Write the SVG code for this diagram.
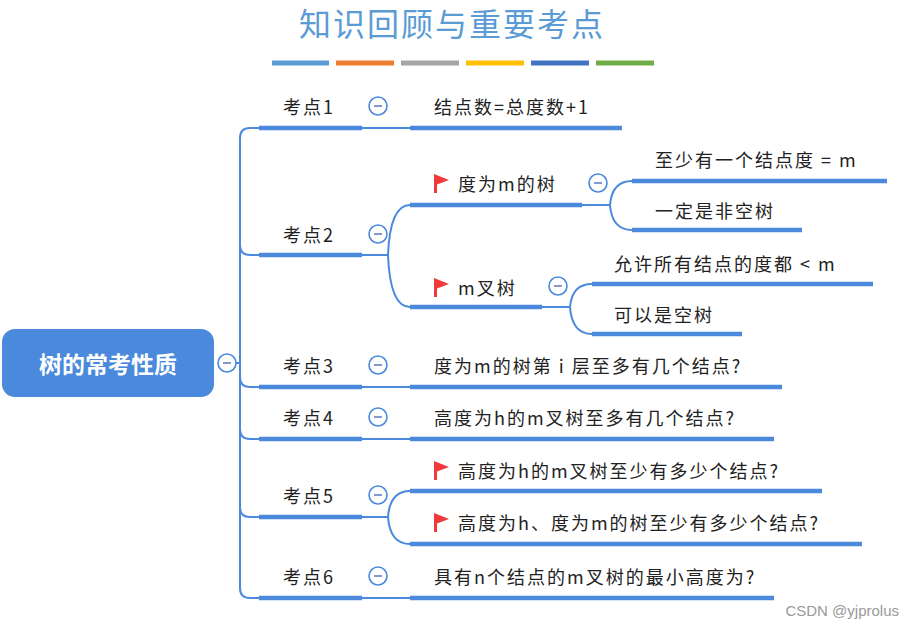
<svg xmlns="http://www.w3.org/2000/svg" width="914" height="630" viewBox="0 0 914 630">
<style>
.u{stroke:#4a89dc;stroke-width:4.5;fill:none}
.c{stroke:#4a89dc;stroke-width:2;fill:none}
.t{font-family:"Noto Sans CJK SC","Liberation Sans",sans-serif;font-size:18px;letter-spacing:2px;fill:#222}
.m{fill:#fff;stroke:#4a89dc;stroke-width:1.6}
.f{fill:#f03a3a}
</style>
<defs>
<g id="min"><circle r="9" class="m"/><line x1="-4" y1="0" x2="4" y2="0" stroke="#6a7fc0" stroke-width="1.6"/></g>
<g id="flag"><path d="M-1,-9 L14,-3 L2,1.5 L2,10 L-1,10 Z" class="f"/></g>
</defs>
<text x="452" y="36" text-anchor="middle" font-family="Noto Sans CJK SC,serif" font-size="32" letter-spacing="2" fill="#5b9bd5">知识回顾与重要考点</text>
<g stroke-width="5">
<line x1="272" y1="63" x2="329" y2="63" stroke="#5b9bd5"/>
<line x1="336" y1="63" x2="394" y2="63" stroke="#ed7d31"/>
<line x1="401" y1="63" x2="459" y2="63" stroke="#a5a5a5"/>
<line x1="466" y1="63" x2="524" y2="63" stroke="#ffc000"/>
<line x1="531" y1="63" x2="589" y2="63" stroke="#4472c4"/>
<line x1="596" y1="63" x2="654" y2="63" stroke="#70ad47"/>
</g>
<g id="connectors">
<path class="c" d="M236,363 H240 M250,128 Q240,128 240,138 V588 Q240,598 250,598 M240,245 Q240,255 250,255 M240,377 Q240,387 250,387 M240,429 Q240,439 250,439 M240,507 Q240,517 250,517"/>
<path class="c" d="M250,128 H260 M250,255 H260 M250,387 H260 M250,439 H260 M250,517 H260 M250,598 H260"/>
<path class="c" d="M362,128 H410 M362,255 H388 Q390,205 410,205 M388,255 Q390,307 410,307 M362,387 H410 M362,439 H410 M362,517 H388 Q390,491 410,491 M388,517 Q390,544 410,544 M362,598 H410"/>
<path class="c" d="M582,205 H610 Q612,181 632,181 M610,205 Q612,230 632,230 M542,307 H570 Q572,284 592,284 M570,307 Q572,334 592,334"/>
</g>
<g id="root">
<rect x="2" y="329" width="212" height="68" rx="13" fill="#4a89dc"/>
<text x="108" y="373" text-anchor="middle" font-family="Noto Sans CJK SC,sans-serif" font-size="23" font-weight="bold" fill="#fff">树的常考性质</text>
<use href="#min" x="227" y="363"/>
</g>
<g id="k1"><line class="u" x1="259" y1="128" x2="362" y2="128"/><text class="t" x="283" y="114">考点1</text><use href="#min" x="378" y="106"/></g>
<g id="k2"><line class="u" x1="259" y1="255" x2="362" y2="255"/><text class="t" x="283" y="242">考点2</text><use href="#min" x="378" y="234"/></g>
<g id="k3"><line class="u" x1="259" y1="387" x2="362" y2="387"/><text class="t" x="283" y="373">考点3</text><use href="#min" x="378" y="365"/></g>
<g id="k4"><line class="u" x1="259" y1="439" x2="362" y2="439"/><text class="t" x="283" y="425">考点4</text><use href="#min" x="378" y="417"/></g>
<g id="k5"><line class="u" x1="259" y1="517" x2="362" y2="517"/><text class="t" x="283" y="503">考点5</text><use href="#min" x="378" y="495"/></g>
<g id="k6"><line class="u" x1="259" y1="598" x2="362" y2="598"/><text class="t" x="283" y="584">考点6</text><use href="#min" x="378" y="576"/></g>
<g id="n1"><line class="u" x1="410" y1="128" x2="622" y2="128"/><text class="t" x="434" y="114">结点数=总度数+1</text></g>
<g id="n2a"><line class="u" x1="410" y1="205" x2="582" y2="205"/><use href="#flag" x="435" y="183"/><text class="t" x="458" y="191">度为m的树</text><use href="#min" x="598" y="183"/></g>
<g id="n2a1"><line class="u" x1="632" y1="181" x2="887" y2="181"/><text class="t" x="655" y="167">至少有一个结点度 = m</text></g>
<g id="n2a2"><line class="u" x1="632" y1="230" x2="802" y2="230"/><text class="t" x="655" y="218">一定是非空树</text></g>
<g id="n2b"><line class="u" x1="410" y1="307" x2="542" y2="307"/><use href="#flag" x="435" y="287"/><text class="t" x="458" y="295">m叉树</text><use href="#min" x="558" y="286"/></g>
<g id="n2b1"><line class="u" x1="592" y1="284" x2="873" y2="284"/><text class="t" x="614" y="271">允许所有结点的度都 &lt; m</text></g>
<g id="n2b2"><line class="u" x1="592" y1="334" x2="742" y2="334"/><text class="t" x="614" y="322">可以是空树</text></g>
<g id="n3"><line class="u" x1="410" y1="387" x2="782" y2="387"/><text class="t" x="434" y="373">度为m的树第 i 层至多有几个结点?</text></g>
<g id="n4"><line class="u" x1="410" y1="439" x2="774" y2="439"/><text class="t" x="434" y="425">高度为h的m叉树至多有几个结点?</text></g>
<g id="n5a"><line class="u" x1="410" y1="491" x2="822" y2="491"/><use href="#flag" x="435" y="470"/><text class="t" x="458" y="478">高度为h的m叉树至少有多少个结点?</text></g>
<g id="n5b"><line class="u" x1="410" y1="544" x2="862" y2="544"/><use href="#flag" x="435" y="522"/><text class="t" x="458" y="530">高度为h、度为m的树至少有多少个结点?</text></g>
<g id="n6"><line class="u" x1="410" y1="598" x2="774" y2="598"/><text class="t" x="434" y="584">具有n个结点的m叉树的最小高度为?</text></g>
<text x="899" y="616" text-anchor="end" font-family="Liberation Sans,sans-serif" font-size="15" fill="#999">CSDN @yjprolus</text>
</svg>
